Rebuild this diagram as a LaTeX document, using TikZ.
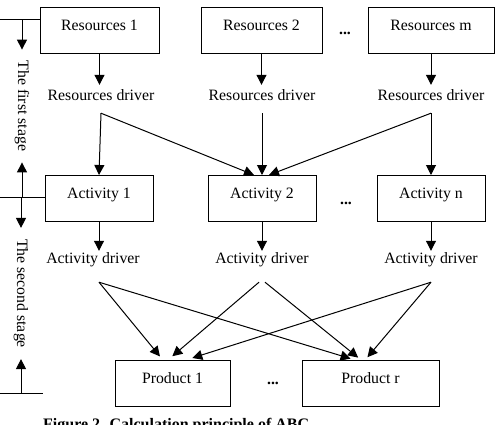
\documentclass[tikz,border=0pt]{standalone}
\usepackage{fontspec}
\setmainfont{Liberation Serif}
\usetikzlibrary{arrows.meta}
\begin{document}
\begin{tikzpicture}[x=1pt, y=-1pt, font=\fontsize{15.8}{18}\selectfont,
    box/.style={draw, line width=1pt, minimum height=46pt, inner sep=0pt, text height=10.5pt, text depth=10.5pt},
    rdrv/.style={anchor=base, inner xsep=0pt, inner ysep=4pt, text height=11pt, text depth=9pt},
    adrv/.style={anchor=base, inner xsep=0pt, inner ysep=1pt, text height=11pt, text depth=18pt},
    stage/.style={rotate=-90, inner xsep=11pt, inner ysep=0pt},
    arr/.style={line width=1pt, -{Triangle[length=10pt, width=10pt]}}]
	\useasboundingbox (0,0) rectangle (496,424);
	\node[box, minimum width=119pt] (res1) at (99.5,30) {Resources 1};
	\node[box, minimum width=121pt] (res2) at (261.5,30) {Resources 2};
	\node[box, minimum width=126pt] (resm) at (431,30) {Resources m};
	\node[anchor=base] (dots1) at (345,34) {\textbf{...}};
	\node[rdrv] (rd1) at (101,100) {Resources driver};
	\node[rdrv] (rd2) at (262,100) {Resources driver};
	\node[rdrv] (rdm) at (431,100) {Resources driver};
	\node[box, minimum width=108pt] (act1) at (99,198.5) {Activity 1};
	\node[box, minimum width=108pt] (act2) at (262,198.5) {Activity 2};
	\node[box, minimum width=108pt] (actn) at (431,198.5) {Activity n};
	\node[anchor=base] (dots2) at (346,204.5) {\textbf{...}};
	\node[adrv] (ad1) at (93,263) {Activity driver};
	\node[adrv] (ad2) at (262,263) {Activity driver};
	\node[adrv] (adn) at (431,263) {Activity driver};
	\node[box, minimum width=115pt] (p1) at (172.5,383) {Product 1};
	\node[box, minimum width=137pt] (pr) at (370.5,383) {Product r};
	\node[anchor=base] (dots3) at (273,384.5) {\textbf{...}};
	\node[stage] (st1) at (22,106) {The first stage};
	\node[stage] (st2) at (21,293.5) {The second stage};
	\node[anchor=base west, inner sep=0pt, font=\fontsize{16}{18}\selectfont\bfseries] (cap) at (43,429) {Figure 2. Calculation principle of ABC};

	\draw[arr] (res1.south) -- (res1.south |- rd1.north);
	\draw[arr] (res2.south) -- (res2.south |- rd2.north);
	\draw[arr] (resm.south) -- (resm.south |- rdm.north);
	\draw[arr] (rd1.south) -- (act1.north);
	\draw[arr] (rd1.south) -- ([xshift=-8pt]act2.north);
	\draw[arr] (rd2.south) -- (act2.north);
	\draw[arr] (rdm.south) -- ([xshift=7pt]act2.north);
	\draw[arr] (rdm.south) -- (actn.north);

	\draw[arr] (act1.south) -- (act1.south |- ad1.north);
	\draw[arr] (act2.south) -- (act2.south |- ad2.north);
	\draw[arr] (actn.south) -- (actn.south |- adn.north);
	\draw[arr, shorten >=4pt] (act1.south |- ad1.south) -- ([xshift=-10pt]p1.north);
	\draw[arr, shorten >=3pt] (act1.south |- ad1.south) -- ([xshift=-17pt]pr.north);
	\draw[arr, shorten >=5pt] ([xshift=-3pt]act2.south |- ad2.south) -- ([xshift=-4pt]p1.north);
	\draw[arr, shorten >=3pt] ([xshift=3pt]act2.south |- ad2.south) -- ([xshift=-10pt]pr.north);
	\draw[arr, shorten >=5pt] (adn.south) -- ([xshift=15pt]p1.north);
	\draw[arr, shorten >=3pt] (adn.south) -- ([xshift=-5pt]pr.north);

	\coordinate (m1) at (0,19);
	\coordinate (m2) at (0,197);
	\coordinate (m3) at (0,393);
	\coordinate (m3e) at (43,393);
	\draw[line width=1pt] (m1) -- (m1 -| res1.west);
	\draw[line width=1pt] (m2) -- (m2 -| act1.west);
	\draw[line width=1pt] (m3) -- (m3e);
	\draw[arr] (m1 -| st1) -- (st1.west);
	\draw[arr] (m2 -| st1) -- (st1.east);
	\draw[arr] (m2 -| st2) -- (st2.west);
	\draw[arr] (m3 -| st2) -- (st2.east);
\end{tikzpicture}
\end{document}
